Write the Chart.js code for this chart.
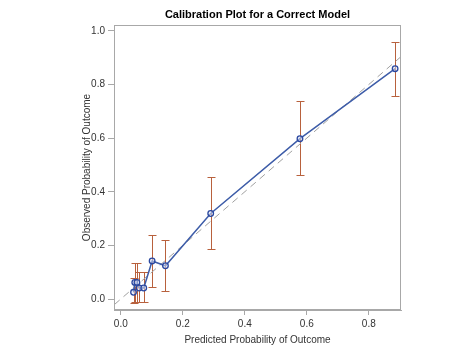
<!DOCTYPE html>
<html>
<head>
<meta charset="utf-8">
<script src="https://cdn.jsdelivr.net/npm/chart.js@4"></script>
<style>
html,body{margin:0;padding:0;background:#fff;}
#wrap{width:474px;height:355px;}
</style>
</head>
<body>
<div id="wrap"><canvas id="c" width="474" height="355"></canvas></div>
<script>
const predicted = [0.041, 0.045, 0.052, 0.059, 0.074, 0.101, 0.144, 0.290, 0.578, 0.885];
const observed  = [0.025, 0.062, 0.062, 0.041, 0.041, 0.142, 0.124, 0.319, 0.598, 0.859];
const lower     = [-0.015, -0.012, -0.010, -0.012, -0.012, 0.043, 0.031, 0.188, 0.461, 0.759];
const upper     = [0.080, 0.133, 0.133, 0.100, 0.100, 0.239, 0.219, 0.455, 0.740, 0.960];
const refLine   = [-0.05, 1.0];
const xTicks    = [0, 0.2, 0.4, 0.6, 0.8];
const yTicks    = [0, 0.2, 0.4, 0.6, 0.8, 1.0];
const titleText = 'Calibration Plot for a Correct Model';

const FONT = "'Liberation Sans', Arial, sans-serif";
const pts = predicted.map((x, i) => ({x: x, y: observed[i]}));

const errorBars = {
  id: 'errorBars',
  beforeDatasetsDraw(chart) {
    const {ctx, scales: {x, y}} = chart;
    ctx.save();
    ctx.strokeStyle = '#b8613d';
    ctx.lineWidth = 1;
    predicted.forEach((p, i) => {
      const px = Math.round(x.getPixelForValue(p)) + 0.5;
      const top = Math.round(y.getPixelForValue(upper[i])) + 0.5;
      const bot = Math.round(y.getPixelForValue(lower[i])) + 0.5;
      ctx.beginPath();
      ctx.moveTo(px, top); ctx.lineTo(px, bot);
      ctx.moveTo(px - 4, top); ctx.lineTo(px + 4, top);
      ctx.moveTo(px - 4, bot); ctx.lineTo(px + 4, bot);
      ctx.stroke();
    });
    ctx.restore();
  }
};

const frameAndTitle = {
  id: 'frameAndTitle',
  afterDraw(chart) {
    const {ctx, chartArea: a} = chart;
    ctx.save();
    ctx.strokeStyle = '#a8a8a8';
    ctx.lineWidth = 1;
    ctx.strokeRect(a.left + 0.5, a.top + 0.5, a.right - a.left - 1, a.bottom - a.top - 1);
    ctx.fillStyle = '#000';
    ctx.font = 'bold 11px ' + FONT;
    ctx.textAlign = 'center';
    ctx.textBaseline = 'middle';
    ctx.fillText(titleText, (a.left + a.right) / 2, 15);
    ctx.restore();
  }
};

new Chart(document.getElementById('c'), {
  type: 'scatter',
  data: {
    datasets: [
      {
        type: 'line',
        data: pts,
        borderColor: '#3d5ca8',
        borderWidth: 1.5,
        pointRadius: 2.8,
        pointBorderWidth: 1.3,
        pointBorderColor: '#2b48a0',
        pointBackgroundColor: 'rgba(225,232,250,0.5)',
        tension: 0,
        fill: false,
        order: 0
      },
      {
        type: 'line',
        data: refLine.map(v => ({x: v, y: v})),
        borderColor: '#a0a0a0',
        borderWidth: 1,
        borderDash: [7, 5],
        pointRadius: 0,
        fill: false,
        order: 1
      }
    ]
  },
  options: {
    responsive: false,
    animation: false,
    devicePixelRatio: 1,
    layout: {padding: {left: 0, right: 73, top: 25, bottom: 0}},
    plugins: {
      legend: {display: false},
      tooltip: {enabled: false},
      title: {display: false}
    },
    scales: {
      x: {
        type: 'linear',
        min: -0.022, max: 0.904,
        afterBuildTicks: s => { s.ticks = xTicks.map(v => ({value: v})); },
        afterFit: s => { s.height = 45; },
        border: {display: true, color: '#a8a8a8'},
        grid: {drawOnChartArea: false, drawTicks: true, tickLength: 5, color: '#a8a8a8'},
        ticks: {color: '#333', font: {family: FONT, size: 10}, padding: 3, maxRotation: 0,
                callback: v => Number(v).toFixed(1)},
        title: {display: true, text: 'Predicted Probability of Outcome', color: '#333',
                font: {family: FONT, size: 10, lineHeight: 1.2}, padding: {top: 0, bottom: 9}}
      },
      y: {
        type: 'linear',
        min: -0.041, max: 1.022,
        afterBuildTicks: s => { s.ticks = yTicks.map(v => ({value: v})); },
        afterFit: s => { s.width = 114; },
        border: {display: true, color: '#a8a8a8'},
        grid: {drawOnChartArea: false, drawTicks: true, tickLength: 6, color: '#a8a8a8'},
        ticks: {color: '#333', font: {family: FONT, size: 10}, padding: 3,
                callback: v => Number(v).toFixed(1)},
        title: {display: true, text: 'Observed Probability of Outcome', color: '#333',
                font: {family: FONT, size: 10, lineHeight: 1.2}, padding: {top: 81, bottom: 0}}
      }
    }
  },
  plugins: [errorBars, frameAndTitle]
});
</script>
</body>
</html>
